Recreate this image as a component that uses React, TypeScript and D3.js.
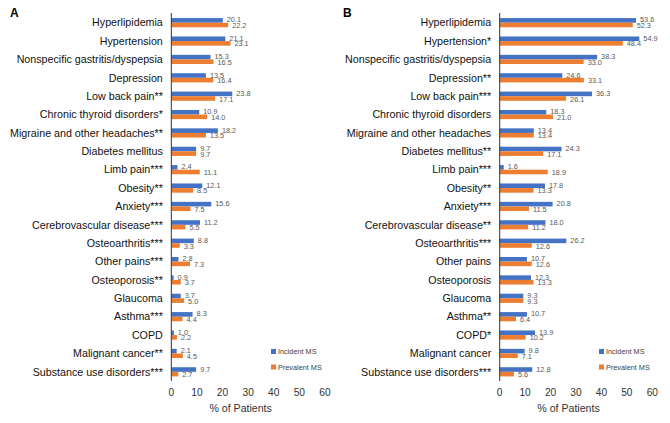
import React, { useEffect, useRef } from 'react';
import * as d3 from 'd3';

const categoriesA = [
  'Hyperlipidemia', 'Hypertension', 'Nonspecific gastritis/dyspepsia', 'Depression',
  'Low back pain**', 'Chronic thyroid disorders*', 'Migraine and other headaches**',
  'Diabetes mellitus', 'Limb pain***', 'Obesity**', 'Anxiety***', 'Cerebrovascular disease***',
  'Osteoarthritis***', 'Other pains***', 'Osteoporosis**', 'Glaucoma', 'Asthma***', 'COPD',
  'Malignant cancer**', 'Substance use disorders***',
];
const incidentA = [20.1, 21.1, 15.3, 13.5, 23.8, 10.9, 18.2, 9.7, 2.4, 12.1, 15.6, 11.2, 8.8, 2.8, 0.9, 3.7, 8.3, 1.0, 2.1, 9.7];
const prevalentA = [22.2, 23.1, 16.5, 16.4, 17.1, 14.0, 13.5, 9.7, 11.1, 8.5, 7.5, 5.5, 3.3, 7.3, 3.7, 5.0, 4.4, 2.2, 4.5, 2.7];

const categoriesB = [
  'Hyperlipidemia', 'Hypertension*', 'Nonspecific gastritis/dyspepsia', 'Depression**',
  'Low back pain***', 'Chronic thyroid disorders', 'Migraine and other headaches',
  'Diabetes mellitus**', 'Limb pain***', 'Obesity**', 'Anxiety***', 'Cerebrovascular disease**',
  'Osteoarthritis***', 'Other pains', 'Osteoporosis', 'Glaucoma', 'Asthma**', 'COPD*',
  'Malignant cancer', 'Substance use disorders***',
];
const incidentB = [53.6, 54.9, 38.3, 24.6, 36.3, 18.3, 13.4, 24.3, 1.6, 17.8, 20.8, 18.0, 26.2, 10.7, 12.3, 9.3, 10.7, 13.9, 9.8, 12.8];
const prevalentB = [52.3, 48.4, 33.0, 33.1, 26.1, 21.0, 13.4, 17.1, 18.9, 13.3, 11.5, 11.2, 12.6, 12.6, 13.3, 9.3, 6.4, 10.2, 7.1, 5.6];

const xTicks = [0, 10, 20, 30, 40, 50, 60];
const seriesNames = ['Incident MS', 'Prevalent MS'];
const seriesColors = ['#4472C4', '#ED7D31'];

interface PanelSpec {
  letter: string;
  cats: string[];
  inc: number[];
  prev: number[];
  x0: number;
  x60: number;
  letterX: number;
  legendX: number;
}

const panels: PanelSpec[] = [
  { letter: 'A', cats: categoriesA, inc: incidentA, prev: prevalentA, x0: 171.3, x60: 325, letterX: 10, legendX: 271 },
  { letter: 'B', cats: categoriesB, inc: incidentB, prev: prevalentB, x0: 499.7, x60: 652.3, letterX: 343, legendX: 599 },
];

const App: React.FC = () => {
  const svgRef = useRef<SVGSVGElement>(null);

  useEffect(() => {
    if (!svgRef.current) return;
    const svg = d3.select(svgRef.current);
    svg.selectAll('*').remove();
    const font = 'Liberation Sans, Arial, sans-serif';

    svg.append('rect').attr('width', 670).attr('height', 423).attr('fill', '#fff');

    panels.forEach((p) => {
      const g = svg.append('g');
      const x = d3.scaleLinear().domain([0, 60]).range([p.x0, p.x60]);
      const y = d3.scaleBand<string>()
        .domain(p.cats)
        .range([13.5, 381])
        .paddingInner(0.5)
        .paddingOuter(0.25);
      const sub = d3.scaleBand<number>().domain([0, 1]).range([0, y.bandwidth()]);

      // panel letter
      g.append('text')
        .attr('x', p.letterX)
        .attr('y', 17)
        .attr('font-family', font)
        .attr('font-weight', 'bold')
        .attr('font-size', 12)
        .attr('fill', '#000')
        .text(p.letter);

      // category labels
      g.selectAll('text.cat')
        .data(p.cats)
        .enter()
        .append('text')
        .attr('class', 'cat')
        .attr('x', p.x0 - 8.5)
        .attr('y', (d) => (y(d) as number) + y.bandwidth() / 2)
        .attr('dy', '0.35em')
        .attr('text-anchor', 'end')
        .attr('font-family', font)
        .attr('font-size', 10.7)
        .attr('fill', '#111')
        .text((d) => d);

      [p.inc, p.prev].forEach((vals, si) => {
        g.selectAll(`rect.s${si}`)
          .data(vals)
          .enter()
          .append('rect')
          .attr('class', `s${si}`)
          .attr('x', x(0))
          .attr('y', (_, i) => (y(p.cats[i]) as number) + (sub(si) as number))
          .attr('width', (d) => x(d) - x(0))
          .attr('height', sub.bandwidth())
          .attr('fill', seriesColors[si]);

        g.selectAll(`text.v${si}`)
          .data(vals)
          .enter()
          .append('text')
          .attr('class', `v${si}`)
          .attr('x', (d) => x(d) + 4)
          .attr('y', (_, i) => (y(p.cats[i]) as number) + (sub(si) as number) + sub.bandwidth() / 2 + (si === 0 ? -0.5 : 0.5))
          .attr('dy', '0.35em')
          .attr('font-family', font)
          .attr('font-size', 7.3)
          .attr('fill', '#595959')
          .text((d) => d.toFixed(1));
      });

      // category axis line
      g.append('line')
        .attr('x1', x(0))
        .attr('x2', x(0))
        .attr('y1', 13)
        .attr('y2', 381)
        .attr('stroke', '#333')
        .attr('stroke-width', 1);

      // x tick labels
      g.selectAll('text.tick')
        .data(xTicks)
        .enter()
        .append('text')
        .attr('class', 'tick')
        .attr('x', (d) => x(d))
        .attr('y', 392.7)
        .attr('dy', '0.35em')
        .attr('text-anchor', 'middle')
        .attr('font-family', font)
        .attr('font-size', 10.2)
        .attr('fill', '#333')
        .text((d) => d);

      g.append('text')
        .attr('x', (x(0) + x(60)) / 2 - 7.5)
        .attr('y', 408.5)
        .attr('dy', '0.35em')
        .attr('text-anchor', 'middle')
        .attr('font-family', font)
        .attr('font-size', 10.6)
        .attr('fill', '#333')
        .text('% of Patients');

      // legend
      seriesNames.forEach((name, si) => {
        const ly = 351.5 + si * 15.5;
        g.append('rect')
          .attr('x', p.legendX)
          .attr('y', ly - 2.5)
          .attr('width', 5)
          .attr('height', 5)
          .attr('fill', seriesColors[si]);
        g.append('text')
          .attr('x', p.legendX + 7)
          .attr('y', ly)
          .attr('dy', '0.35em')
          .attr('font-family', font)
          .attr('font-size', 7.3)
          .attr('fill', '#444')
          .text(name);
      });
    });
  }, []);

  return (
    <svg ref={svgRef} width={670} height={423} style={{ position: 'absolute', left: 0, top: 0 }}></svg>
  );
};

export default App;
